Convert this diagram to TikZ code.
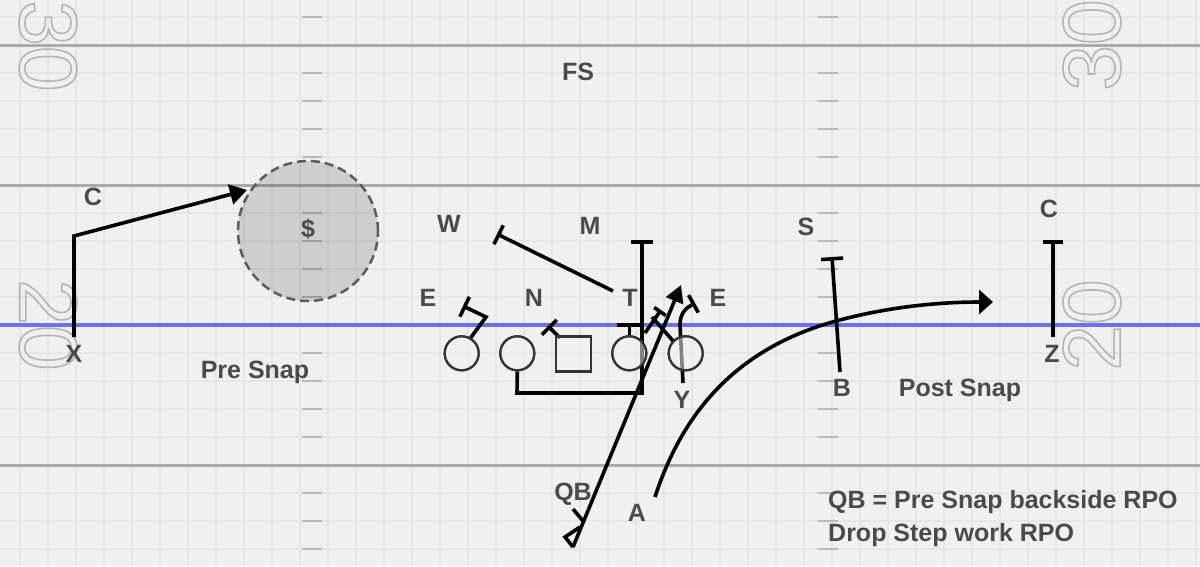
\documentclass[tikz,border=0pt]{standalone}
\usepackage{fontspec}
\setmainfont{Liberation Sans}
\usetikzlibrary{arrows.meta}
\definecolor{bgc}{HTML}{F0F0F0}
\definecolor{gridc}{HTML}{E6E6E6}
\definecolor{yardc}{HTML}{ABABAB}
\definecolor{hashc}{HTML}{B8B8B8}
\definecolor{losc}{RGB}{112,112,238}
\definecolor{labc}{HTML}{4A4A4A}
\definecolor{plc}{HTML}{333333}
\definecolor{zonec}{HTML}{5C5C5C}
\newcommand\outltext[1]{\special{pdf:literal direct 1 Tr 1.6 w 0.71 G}#1\special{pdf:literal direct 0 Tr}}
\begin{document}
\begin{tikzpicture}[x=1pt,y=-1pt,
  lbl/.style={font=\bfseries\fontsize{25}{29}\selectfont, text=labc, inner sep=0pt, anchor=base},
  yardnum/.style={font=\fontsize{82}{82}\selectfont, inner sep=0pt},
  route/.style={line width=3.6pt, draw=black},
  blk/.style={-{Bar[width=#1]}},
  arr/.style={-{Triangle[length=17pt,width=20pt]}},
  player/.style={circle, draw=plc, line width=2.2pt, minimum size=34pt, inner sep=0pt, fill=bgc, fill opacity=0.55},
  centerbox/.style={rectangle, draw=plc, line width=2.2pt, minimum size=35pt, inner sep=0pt, fill=bgc, fill opacity=0.55},
  zone/.style={circle, draw=zonec, dash pattern=on 9pt off 5pt, line width=2.5pt, minimum size=140pt, inner sep=0pt, fill=black, fill opacity=0.14}
]
\useasboundingbox (0,0) rectangle (1200,566);
\fill[bgc] (0,0) rectangle (1200,566);
% grid
\foreach \i in {0,...,42} \draw[gridc, line width=1.5pt] ({20+28*\i},0) -- ({20+28*\i},566);
\foreach \j in {0,...,19} \draw[gridc, line width=1.5pt] (0,{17+28*\j}) -- (1200,{17+28*\j});
% hash marks
\foreach \j in {0,2,3,4,5,7,8,9,10,12,13,14,15,17,18,19} {
  \draw[hashc, line width=1.5pt] (302,{17+28*\j}) -- (322,{17+28*\j});
  \draw[hashc, line width=1.5pt] (818,{17+28*\j}) -- (838,{17+28*\j});
}
% yard lines
\foreach \y in {45,185,465} \draw[yardc, line width=3pt] (0,\y) -- (1200,\y);
% yard numbers
\node[yardnum, rotate=-90] (n30l) at (48,46) {\outltext{30}};
\node[yardnum, rotate=-90] (n20l) at (48,325) {\outltext{20}};
\node[yardnum, rotate=90] (n30r) at (1092,45) {\outltext{30}};
\node[yardnum, rotate=90] (n20r) at (1092,325) {\outltext{20}};
% line of scrimmage
\draw[losc, line width=4pt] (0,325) -- (1200,325);
% zone
\node[zone] (zn) at (308,231) {};
% route points
\coordinate (xs) at (74,337);
\coordinate (xk) at (74,236);
\coordinate (xe) at (247,190);
\coordinate (le1) at (486,317);
\coordinate (le2) at (463,306);
\coordinate (nn1) at (560,338);
\coordinate (nn2) at (548,326);
\coordinate (pl1) at (517,393);
\coordinate (pl2) at (642,393);
\coordinate (pl3) at (642,240);
\coordinate (tt1) at (629.3,323);
\coordinate (ws) at (613,291);
\coordinate (we) at (497,234);
\coordinate (td1) at (645,333);
\coordinate (td2) at (661,310);
\coordinate (yd1) at (674,342);
\coordinate (yd2) at (652,317);
\coordinate (ys) at (683,383);
\coordinate (y1) at (680,325);
\coordinate (ye) at (695,303);
\coordinate (qs) at (573,547);
\coordinate (qe) at (681,285);
\coordinate (qt1) at (565,537);
\coordinate (qt2) at (580,527);
\coordinate (qk1) at (573,509);
\coordinate (qk2) at (583,521);
\coordinate (as) at (655,497);
\coordinate (am) at (836,321);
\coordinate (ae) at (993,302);
\coordinate (bs) at (840,372);
\coordinate (be) at (832,257);
\coordinate (zs) at (1053,337);
\coordinate (ze) at (1053,240);
% players
\node[player] (p1) at (461.7,353.3) {};
\node[player] (p2) at (517.3,353.3) {};
\node[centerbox] (cc) at (573.5,354) {};
\node[player] (p4) at (629.3,353.3) {};
\node[player] (p5) at (685.7,353.3) {};
% routes
\draw[route, arr] (xs) -- (xk) -- (xe);
\draw[route, blk=22pt] (p1.60) -- (le1) -- (le2);
\draw[route, blk=21pt] (nn1) -- (nn2);
\draw[route, blk=22pt] (p2.south) -- (pl1) -- (pl2) -- (pl3);
\draw[route, blk=25pt] (p4.north) -- (tt1);
\draw[route, blk=21pt] (ws) -- (we);
\draw[route, blk=14pt] (td1) -- (td2);
\draw[route] (yd1) -- (yd2);
\draw[route, blk=20pt] (ys) -- (y1) .. controls (680,313) and (686,308) .. (ye);
\draw[route, -{Triangle[length=17pt,width=18pt]}] (qs) -- (qe);
\draw[route, line join=miter] (qs) -- (qt1) -- (qt2);
\draw[route] (qk1) -- (qk2);
\draw[route, -{Triangle[length=14pt,width=24pt]}] (as) .. controls (680,420) and (730,350) .. (am) .. controls (880,309) and (930,302) .. (ae);
\draw[route, blk=22pt] (bs) -- (be);
\draw[route, blk=20pt] (zs) -- (ze);
% redraw players on top (semi transparent fill)
\node[player] at (p1) {};
\node[player] at (p2) {};
\node[centerbox] at (cc) {};
\node[player] at (p4) {};
\node[player] at (p5) {};
% labels
\node[lbl] (lfs) at (578,80.5) {FS};
\node[lbl] (lcl) at (93,205.5) {C};
\node[lbl] (ldol) at (308,237.5) {\$};
\node[lbl] (lw) at (449,232.5) {W};
\node[lbl] (lm) at (590,234.5) {M};
\node[lbl] (ls) at (806,235.5) {S};
\node[lbl] (lcr) at (1049,217.5) {C};
\node[lbl] (lel) at (428,306.5) {E};
\node[lbl] (ln) at (534,306.5) {N};
\node[lbl] (lt) at (630,306.5) {T};
\node[lbl] (ler) at (718,306.5) {E};
\node[lbl] (lx) at (74,362.5) {X};
\node[lbl] (lz) at (1052,362.5) {Z};
\node[lbl] (lpre) at (255,378.5) {Pre Snap};
\node[lbl] (ly) at (682,408.5) {Y};
\node[lbl] (lb) at (842,396.5) {B};
\node[lbl] (lpost) at (960,396.5) {Post Snap};
\node[lbl] (lqb) at (573,500.5) {QB};
\node[lbl] (la) at (637,521.5) {A};
\node[lbl, anchor=base west] (note1) at (828,508) {QB = Pre Snap backside RPO};
\node[lbl, anchor=base west] (note2) at (828,541) {Drop Step work RPO};
\end{tikzpicture}
\end{document}
